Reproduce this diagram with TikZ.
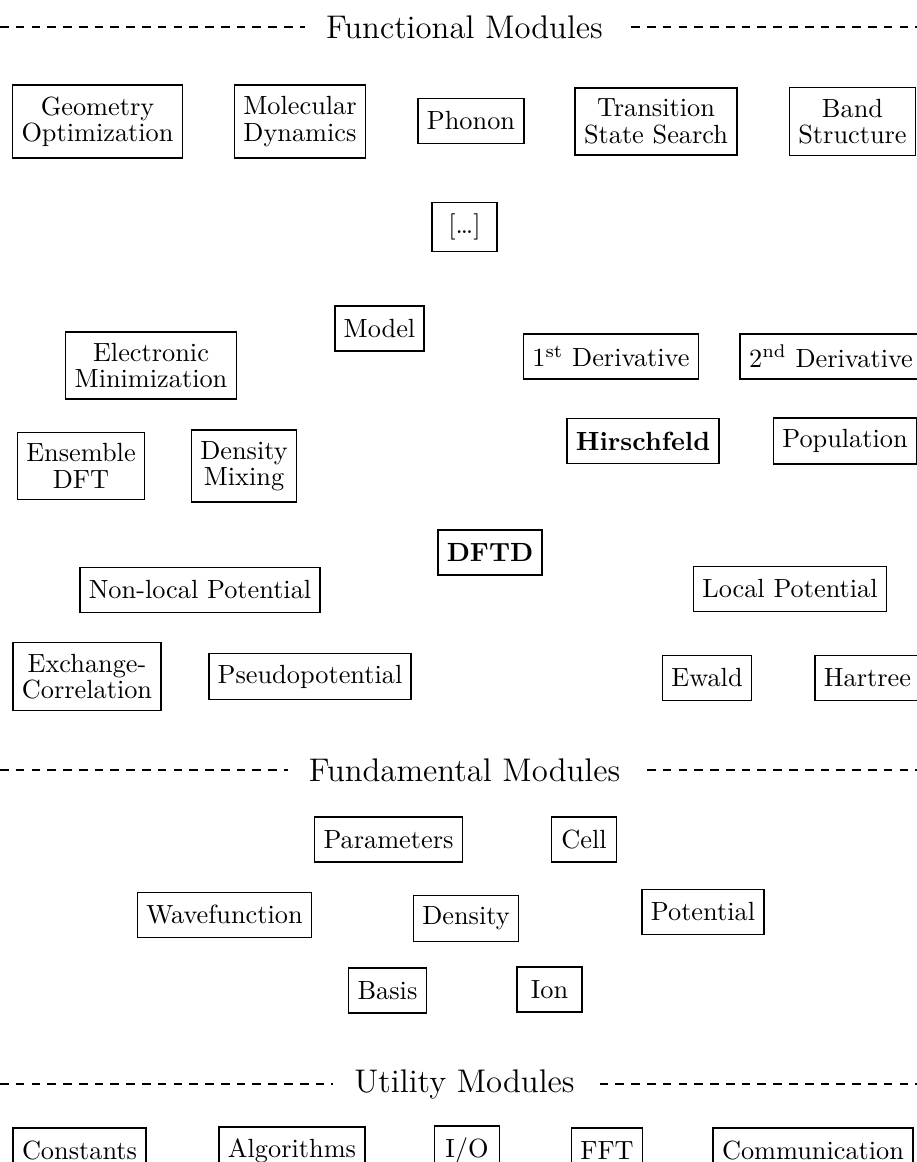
\documentclass[tikz,border=0pt]{standalone}
\begin{document}
\begin{tikzpicture}[x=0.3802pt,y=-0.3802pt,
  box/.style={draw, line width=0.6pt, inner xsep=3.4pt, inner ysep=4.3pt,
    minimum height=17pt, minimum width=24.7pt, align=center,
    font=\fontsize{10}{10}\selectfont},
  hdr/.style={dash pattern=on 3.3pt off 2.7pt, line width=1.1pt},
  title/.style={fill=white, inner xsep=8pt, inner ysep=2pt,
    font=\fontsize{12.45}{15}\selectfont}]
\useasboundingbox (0,0) rectangle (917,1162);
\clip (0,0) rectangle (917,1162);

% ---- headers ----
\coordinate (h1l) at (0,27);   \coordinate (h1r) at (917,27);
\coordinate (h2l) at (0,770);  \coordinate (h2r) at (917,770);
\coordinate (h3l) at (0,1084); \coordinate (h3r) at (917,1084);
\draw[hdr] (h1l) -- (h1r);
\draw[hdr] (h2l) -- (h2r);
\draw[hdr] (h3l) -- (h3r);
\node[title] (t1) at (464.5,27)   {Functional Modules};
\node[title] (t2) at (464.5,770)  {Fundamental Modules};
\node[title] (t3) at (464.5,1084) {Utility Modules};

% ---- functional modules ----
\node[box] (geo)    at (97.5,121.5)  {Geometry\\Optimization};
\node[box] (md)     at (300,121.5)   {Molecular\\Dynamics};
\node[box] (phonon) at (471,121)     {Phonon};
\node[box] (tss)    at (656,121.5)   {Transition\\State Search};
\node[box] (band)   at (852.5,121.5) {Band\\Structure};
\node[box] (dots)   at (464.5,227)   {[\ldots]};

\node[box] (model)  at (379.5,328.5) {Model};
\node[box] (elec)   at (151,365.5)   {Electronic\\Minimization};
\node[box] (d1)     at (611,356.5)   {1\textsuperscript{st} Derivative};
\node[box] (d2)     at (831,356.5)   {2\textsuperscript{nd} Derivative};
\node[box] (ens)    at (81,466)      {Ensemble\\DFT};
\node[box] (dmix)   at (244,466)     {Density\\Mixing};
\node[box] (hirsch) at (643,441)     {\textbf{Hirschfeld}};
\node[box] (pop)    at (845,441)     {Population};
\node[box] (dftd)   at (490,552.5)   {\textbf{DFTD}};
\node[box] (nloc)   at (200,590)     {Non-local Potential};
\node[box] (loc)    at (790,589)     {Local Potential};
\node[box] (xc)     at (87,676.5)    {Exchange-\\Correlation};
\node[box] (pseudo) at (310,676.5)   {Pseudopotential};
\node[box] (ewald)  at (707,678)     {Ewald};
\node[box] (hart)   at (867.5,678)   {Hartree};

% ---- fundamental modules ----
\node[box] (param)  at (388.5,839.5) {Parameters};
\node[box] (cell)   at (584,839.5)   {Cell};
\node[box] (wave)   at (224.5,915)   {Wavefunction};
\node[box] (dens)   at (466,918.5)   {Density};
\node[box] (pot)    at (703,912)     {Potential};
\node[box] (basis)  at (387.5,990.5) {Basis};
\node[box] (ion)    at (549.5,989.5) {Ion};

% ---- utility modules ----
\node[box] (const)  at (79.5,1150.5) {Constants};
\node[box] (algo)   at (292,1150.5)  {Algorithms};
\node[box] (io)     at (467,1150.5)  {I/O};
\node[box] (fft)    at (607,1150.5)  {FFT};
\node[box] (comm)   at (813,1150.5)  {Communication};
\end{tikzpicture}
\end{document}
